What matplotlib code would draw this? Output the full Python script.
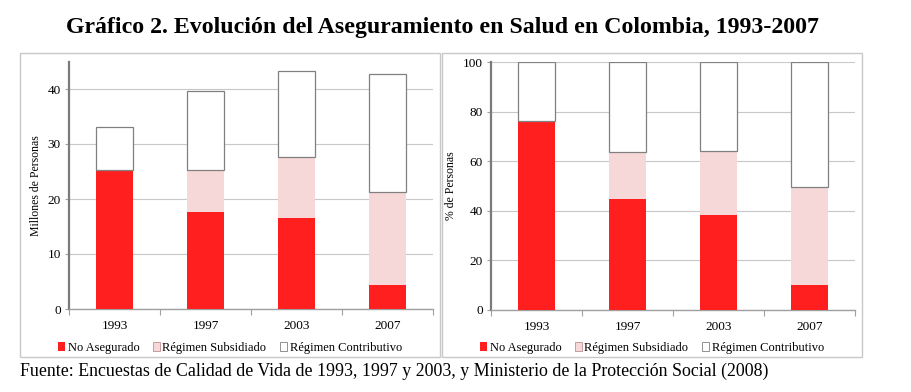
import numpy as np
import matplotlib
matplotlib.use('Agg')
from matplotlib import pyplot as plt
from matplotlib.patches import Rectangle, Patch

years = ['1993', '1997', '2003', '2007']

# millones de personas
no_asegurado_mill = [25.2, 17.7, 16.5, 4.3]
subsidiado_mill = [0.0, 7.5, 11.1, 16.9]
contributivo_mill = [7.8, 14.4, 15.6, 21.6]

# % de personas
no_asegurado_pct = [76.3, 44.8, 38.4, 10.1]
subsidiado_pct = [0.0, 18.9, 25.7, 39.6]
contributivo_pct = [23.7, 36.3, 35.9, 50.3]

labels = ['No Asegurado', 'Régimen Subsidiado', 'Régimen Contributivo']
colors = ['#ff1f1f', '#f7d8d8', 'white']

plt.rcParams['font.family'] = ['Liberation Serif', 'DejaVu Serif']

W, H = 911, 392


def px_axes(fig, x0, y_top, x1, y_bot):
    return fig.add_axes([x0 / W, 1 - y_bot / H, (x1 - x0) / W, (y_bot - y_top) / H])


def stacked(ax, series, ymax, yticks, ylabel):
    x = np.arange(len(years)) + 0.5
    bottom = np.zeros(len(years))
    for vals, col in zip(series, colors):
        vals = np.array(vals)
        if col == 'white':
            ax.bar(x, vals, 0.41, bottom=bottom, color=col, edgecolor='#808080',
                   linewidth=0.9, zorder=3)
        else:
            ax.bar(x, vals, 0.41, bottom=bottom, color=col, edgecolor='none',
                   zorder=3)
        bottom += vals
    ax.set_xlim(0, len(years))
    ax.set_ylim(0, ymax)
    ax.set_yticks(yticks)
    ax.yaxis.grid(True, color='#c8c8c8', linewidth=0.8, zorder=0)
    ax.set_axisbelow(True)
    ax.set_xticks(np.arange(len(years) + 1))
    ax.set_xticklabels([])
    ax.set_xticks(x, minor=True)
    ax.set_xticklabels(years, minor=True)
    ax.tick_params(axis='x', which='major', length=4, color='#a0a0a0')
    ax.tick_params(axis='x', which='minor', length=0, pad=8, labelsize=9.5)
    ax.tick_params(axis='y', length=3, color='#a0a0a0', labelsize=9.5, pad=3)
    for s in ['top', 'right']:
        ax.spines[s].set_visible(False)
    ax.spines['left'].set_color('#7a7a7a')
    ax.spines['left'].set_linewidth(1.6)
    ax.spines['bottom'].set_color('#a0a0a0')
    ax.spines['bottom'].set_linewidth(1.0)
    ax.set_ylabel(ylabel, fontsize=8.5, labelpad=4)


fig = plt.figure(figsize=(W / 100, H / 100), dpi=100)

# panel frames
for x0, x1 in [(20, 440), (442, 862)]:
    fig.patches.append(Rectangle((x0 / W, 1 - 356.5 / H), (x1 - x0) / W, (356.5 - 52.5) / H,
                                 transform=fig.transFigure, fill=False,
                                 edgecolor='#c8c8c8', linewidth=1.0))

ax1 = px_axes(fig, 69, 61.5, 433, 309)
stacked(ax1, [no_asegurado_mill, subsidiado_mill, contributivo_mill], 45,
        [0, 10, 20, 30, 40], 'Millones de Personas')

ax2 = px_axes(fig, 491, 62.3, 855, 310)
stacked(ax2, [no_asegurado_pct, subsidiado_pct, contributivo_pct], 100,
        [0, 20, 40, 60, 80, 100], '% de Personas')

handles = [Patch(facecolor=c, edgecolor=e, linewidth=0.6)
           for c, e in zip(colors, ['none', '#c09090', '#808080'])]
for ax, cx in [(ax1, 230 / W), (ax2, 652 / W)]:
    fig.legend(handles, labels, loc='center', bbox_to_anchor=(cx, 1 - 347.5 / H),
               ncol=3, frameon=False, fontsize=9, handlelength=0.55,
               handleheight=0.7, handletextpad=0.2, columnspacing=1.1)

fig.text(443 / W, 1 - 27 / H,
         'Gráfico 2. Evolución del Aseguramiento en Salud en Colombia, 1993-2007',
         ha='center', va='center', fontsize=17.2, fontweight='bold')
fig.text(20 / W, 1 - 371 / H,
         'Fuente: Encuestas de Calidad de Vida de 1993, 1997 y 2003, y Ministerio de la Protección Social (2008)',
         ha='left', va='center', fontsize=12.85)

fig.savefig('out.png', dpi=100)
